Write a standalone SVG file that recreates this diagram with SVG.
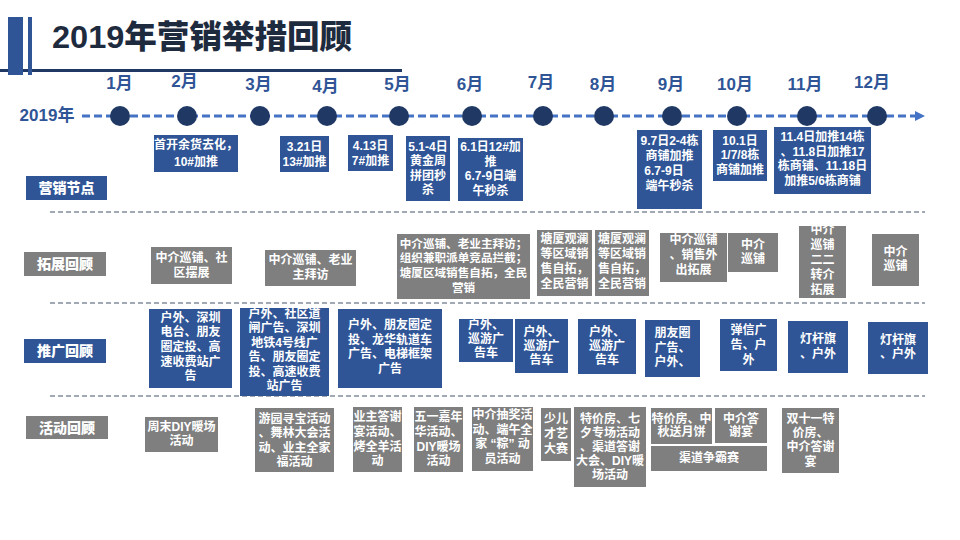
<svg xmlns="http://www.w3.org/2000/svg" width="960" height="540" viewBox="0 0 960 540">
<defs>
<style>
.b{fill:#2f5597}
.g{fill:#7f7f7f}
.t{font-family:"Liberation Sans","Noto Sans CJK SC",sans-serif;font-size:12px;font-weight:bold;fill:#fff;text-anchor:middle}
.lb{font-family:"Noto Sans CJK SC",sans-serif;font-size:14px;font-weight:900;fill:#fff;text-anchor:middle}
.m{font-family:"Liberation Sans","Noto Sans CJK SC",sans-serif;font-size:17px;font-weight:bold;fill:#2f5597;text-anchor:middle}
.sep{stroke:#44546a;stroke-width:1.2;stroke-dasharray:5 3;fill:none}
.dot{fill:#1f3864}
</style>
<marker id="arr" markerUnits="userSpaceOnUse" markerWidth="10" markerHeight="10" refX="2" refY="5" orient="auto">
<path d="M0,0 L10,5 L0,10 z" fill="#4472c4"/>
</marker>
</defs>
<rect width="960" height="540" fill="#fff"/>
<g id="header">
<rect x="0" y="69" width="402" height="3" fill="#1f3864"/>
<rect x="8" y="17" width="15" height="58" fill="#2f5597"/>
<rect x="28" y="17" width="4" height="58" fill="#2f5597"/>
<text x="52" y="48" textLength="300" lengthAdjust="spacingAndGlyphs" style="font-family:'Liberation Sans','Noto Sans CJK SC',sans-serif;font-size:32px;font-weight:900;fill:#1e2b3e">2019年营销举措回顾</text>
</g>
<g id="connectors">
<line x1="82" y1="116" x2="917" y2="116" stroke="#4472c4" stroke-width="3" stroke-dasharray="8 4" marker-end="url(#arr)"/>
<line class="sep" x1="50" y1="212" x2="925" y2="212"/>
<line class="sep" x1="50" y1="303" x2="925" y2="303"/>
<line class="sep" x1="50" y1="396" x2="925" y2="396"/>
</g>
<g id="timeline">
<text x="47" y="121" style="font-family:'Liberation Sans','Noto Sans CJK SC',sans-serif;font-size:17px;font-weight:bold;fill:#2f5597;text-anchor:middle">2019年</text>
<circle class="dot" cx="120" cy="116" r="10"/>
<circle class="dot" cx="187" cy="116" r="10"/>
<circle class="dot" cx="260" cy="116" r="10"/>
<circle class="dot" cx="327" cy="116" r="10"/>
<circle class="dot" cx="399" cy="116" r="10"/>
<circle class="dot" cx="472" cy="116" r="10"/>
<circle class="dot" cx="543" cy="116" r="10"/>
<circle class="dot" cx="604" cy="116" r="10"/>
<circle class="dot" cx="672" cy="116" r="10"/>
<circle class="dot" cx="737" cy="116" r="10"/>
<circle class="dot" cx="807" cy="116" r="10"/>
<circle class="dot" cx="877" cy="116" r="10"/>
<text class="m" x="119.5" y="89">1月</text>
<text class="m" x="184.5" y="87">2月</text>
<text class="m" x="258.5" y="90">3月</text>
<text class="m" x="325.5" y="92">4月</text>
<text class="m" x="397.5" y="90">5月</text>
<text class="m" x="470" y="90">6月</text>
<text class="m" x="541" y="88">7月</text>
<text class="m" x="603" y="90">8月</text>
<text class="m" x="671" y="90">9月</text>
<text class="m" x="735" y="90">10月</text>
<text class="m" x="805" y="90">11月</text>
<text class="m" x="872" y="88">12月</text>
</g>
<!-- Row 1 -->
<g id="label-yingxiao"><rect class="b" x="26" y="176" width="81" height="24"/><text class="lb" x="66.5" y="193">营销节点</text></g>
<g id="yx1"><rect class="b" x="154" y="135" width="84" height="37"/><text class="t"><tspan x="196" y="149.3">首开余货去化，</tspan><tspan x="196" y="166.3">10#加推</tspan></text></g>
<g id="yx2"><rect class="b" x="280" y="136" width="49" height="36"/><text class="t"><tspan x="304.5" y="150.8">3.21日</tspan><tspan x="304.5" y="165.8">13#加推</tspan></text></g>
<g id="yx3"><rect class="b" x="348" y="135" width="45" height="36"/><text class="t"><tspan x="370.5" y="149.8">4.13日</tspan><tspan x="370.5" y="164.8">7#加推</tspan></text></g>
<g id="yx4"><rect class="b" x="406" y="136" width="44" height="65"/><text class="t"><tspan x="428" y="150.5">5.1-4日</tspan><tspan x="428" y="165">黄金周</tspan><tspan x="428" y="179.5">拼团秒</tspan><tspan x="428" y="194">杀</tspan></text></g>
<g id="yx5"><rect class="b" x="458" y="138" width="65" height="63"/><text class="t"><tspan x="490.5" y="151">6.1日12#加</tspan><tspan x="490.5" y="165.5">推</tspan><tspan x="490.5" y="180">6.7-9日端</tspan><tspan x="490.5" y="194.5">午秒杀</tspan></text></g>
<g id="yx6"><rect class="b" x="637" y="130" width="65" height="79"/><text class="t"><tspan x="669.5" y="144.5">9.7日2-4栋</tspan><tspan x="669.5" y="159.5">商铺加推</tspan><tspan x="664" y="174.5">6.7-9日</tspan><tspan x="669.5" y="189.5">端午秒杀</tspan></text></g>
<g id="yx7"><rect class="b" x="713" y="130" width="54" height="51"/><text class="t"><tspan x="740" y="144.5">10.1日</tspan><tspan x="740" y="159">1/7/8栋</tspan><tspan x="740" y="173.5">商铺加推</tspan></text></g>
<g id="yx8"><rect class="b" x="774" y="127" width="97" height="67"/><text class="t"><tspan x="822.5" y="141">11.4日加推14栋</tspan><tspan x="822.5" y="155.5">、11.8日加推17</tspan><tspan x="822.5" y="170">栋商铺、11.18日</tspan><tspan x="822.5" y="184.5">加推5/6栋商铺</tspan></text></g>
<!-- Row 2 -->
<g id="label-tuozhan"><rect class="g" x="24" y="252" width="82" height="24"/><text class="lb" x="65" y="269">拓展回顾</text></g>
<g id="tz1"><rect class="g" x="151" y="247" width="81" height="37"/><text class="t"><tspan x="191.5" y="262">中介巡铺、社</tspan><tspan x="191.5" y="276.6">区摆展</tspan></text></g>
<g id="tz2"><rect class="g" x="265" y="250" width="91" height="36"/><text class="t"><tspan x="310.5" y="264.3">中介巡铺、老业</tspan><tspan x="310.5" y="278.6">主拜访</tspan></text></g>
<g id="tz3"><rect class="g" x="397" y="234" width="133" height="65"/><text class="t" style="font-size:11.6px"><tspan x="463.5" y="247.6">中介巡铺、老业主拜访；</tspan><tspan x="463.5" y="262.4">组织兼职派单竞品拦截；</tspan><tspan x="463.5" y="277.2">塘厦区域销售自拓，全民</tspan><tspan x="463.5" y="292">营销</tspan></text></g>
<g id="tz4"><rect class="g" x="537" y="230" width="55" height="66"/><text class="t"><tspan x="564.5" y="243.3">塘厦观澜</tspan><tspan x="564.5" y="258.3">等区域销</tspan><tspan x="564.5" y="273.3">售自拓，</tspan><tspan x="564.5" y="288.3">全民营销</tspan></text></g>
<g id="tz5"><rect class="g" x="595" y="230" width="54" height="66"/><text class="t"><tspan x="622" y="243.3">塘厦观澜</tspan><tspan x="622" y="258.3">等区域销</tspan><tspan x="622" y="273.3">售自拓，</tspan><tspan x="622" y="288.3">全民营销</tspan></text></g>
<g id="tz6"><rect class="g" x="660" y="233" width="67" height="49"/><text class="t"><tspan x="693.5" y="244.3">中介巡铺</tspan><tspan x="693.5" y="259">、销售外</tspan><tspan x="693.5" y="273.5">出拓展</tspan></text></g>
<g id="tz7"><rect class="g" x="728" y="233" width="50" height="39"/><text class="t"><tspan x="753" y="249.3">中介</tspan><tspan x="753" y="263">巡铺</tspan></text></g>
<g id="tz8"><rect class="g" x="799" y="226" width="47" height="72"/><text class="t"><tspan x="822.5" y="234.3">中介</tspan><tspan x="822.5" y="249.1">巡铺</tspan><tspan x="822.5" y="263.9">二二</tspan><tspan x="822.5" y="278.7">转介</tspan><tspan x="822.5" y="293.5">拓展</tspan></text></g>
<g id="tz9"><rect class="g" x="872" y="234" width="47" height="52"/><text class="t"><tspan x="895.5" y="256">中介</tspan><tspan x="895.5" y="270">巡铺</tspan></text></g>
<!-- Row 3 -->
<g id="label-tuiguang"><rect class="b" x="24" y="339" width="82" height="24"/><text class="lb" x="65" y="356">推广回顾</text></g>
<g id="tg1"><rect class="b" x="149" y="309" width="83" height="79"/><text class="t"><tspan x="190.5" y="321.6">户外、深圳</tspan><tspan x="190.5" y="336.3">电台、朋友</tspan><tspan x="190.5" y="351">圈定投、高</tspan><tspan x="190.5" y="365.7">速收费站广</tspan><tspan x="190.5" y="380.4">告</tspan></text></g>
<g id="tg2"><rect class="b" x="240" y="308" width="89" height="88"/><text class="t"><tspan x="284.5" y="317.6">户外、社区道</tspan><tspan x="284.5" y="332.1">闸广告、深圳</tspan><tspan x="284.5" y="346.6">地铁4号线广</tspan><tspan x="284.5" y="361.1">告、朋友圈定</tspan><tspan x="284.5" y="375.6">投、高速收费</tspan><tspan x="284.5" y="390.1">站广告</tspan></text></g>
<g id="tg3"><rect class="b" x="338" y="309" width="104" height="79"/><text class="t"><tspan x="390" y="329.3">户外、朋友圈定</tspan><tspan x="390" y="343.7">投、龙华轨道车</tspan><tspan x="390" y="358.1">广告、电梯框架</tspan><tspan x="390" y="372.5">广告</tspan></text></g>
<g id="tg4"><rect class="b" x="459" y="319" width="54" height="43"/><text class="t"><tspan x="486" y="329.3">户外、</tspan><tspan x="486" y="343.3">巡游广</tspan><tspan x="486" y="357.3">告车</tspan></text></g>
<g id="tg5"><rect class="b" x="515" y="319" width="53" height="54"/><text class="t"><tspan x="541.5" y="336">户外、</tspan><tspan x="541.5" y="350">巡游广</tspan><tspan x="541.5" y="364">告车</tspan></text></g>
<g id="tg6"><rect class="b" x="578" y="319" width="58" height="55"/><text class="t"><tspan x="607" y="336">户外、</tspan><tspan x="607" y="350.2">巡游广</tspan><tspan x="607" y="364.4">告车</tspan></text></g>
<g id="tg7"><rect class="b" x="645" y="320" width="55" height="57"/><text class="t"><tspan x="672.5" y="337">朋友圈</tspan><tspan x="672.5" y="351.5">广告、</tspan><tspan x="672.5" y="366">户外、</tspan></text></g>
<g id="tg8"><rect class="b" x="720" y="319" width="57" height="52"/><text class="t"><tspan x="748.5" y="333.6">弹信广</tspan><tspan x="748.5" y="348.6">告、户</tspan><tspan x="748.5" y="363.6">外</tspan></text></g>
<g id="tg9"><rect class="b" x="788" y="321" width="60" height="52"/><text class="t"><tspan x="818" y="343.3">灯杆旗</tspan><tspan x="818" y="357.6">、户外</tspan></text></g>
<g id="tg10"><rect class="b" x="868" y="322" width="60" height="52"/><text class="t"><tspan x="898" y="343.6">灯杆旗</tspan><tspan x="898" y="358">、户外</tspan></text></g>
<!-- Row 4 -->
<g id="label-huodong"><rect class="g" x="26" y="416" width="82" height="23"/><text class="lb" x="67" y="433">活动回顾</text></g>
<g id="hd1"><rect class="g" x="145" y="417" width="73" height="35"/><text class="t"><tspan x="181.5" y="431">周末DIY暖场</tspan><tspan x="181.5" y="445">活动</tspan></text></g>
<g id="hd2"><rect class="g" x="255" y="408" width="79" height="64"/><text class="t"><tspan x="294.5" y="422.6">游园寻宝活动</tspan><tspan x="294.5" y="437.1">、舞林大会活</tspan><tspan x="294.5" y="451.6">动、业主全家</tspan><tspan x="294.5" y="466.1">福活动</tspan></text></g>
<g id="hd3"><rect class="g" x="353" y="407" width="49" height="65"/><text class="t"><tspan x="377.5" y="421">业主答谢</tspan><tspan x="377.5" y="435.8">宴活动、</tspan><tspan x="377.5" y="450.6">烤全羊活</tspan><tspan x="377.5" y="465.4">动</tspan></text></g>
<g id="hd4"><rect class="g" x="414" y="407" width="49" height="65"/><text class="t"><tspan x="438.5" y="421">五一嘉年</tspan><tspan x="438.5" y="435.8">华活动、</tspan><tspan x="438.5" y="450.6">DIY暖场</tspan><tspan x="438.5" y="465.4">活动</tspan></text></g>
<g id="hd5"><rect class="g" x="472" y="407" width="61" height="64"/><text class="t"><tspan x="502.5" y="419.3">中介抽奖活</tspan><tspan x="502.5" y="433.7">动、端午全</tspan><tspan x="502.5" y="448.1">家 “粽” 动</tspan><tspan x="502.5" y="462.5">员活动</tspan></text></g>
<g id="hd6"><rect class="g" x="541" y="408" width="30" height="53"/><text class="t"><tspan x="556" y="422.6">少儿</tspan><tspan x="556" y="437.6">才艺</tspan><tspan x="556" y="452.6">大赛</tspan></text></g>
<g id="hd7"><rect class="g" x="574" y="407" width="72" height="80"/><text class="t"><tspan x="610" y="422.6">特价房、七</tspan><tspan x="610" y="436.8">夕专场活动</tspan><tspan x="610" y="451">、渠道答谢</tspan><tspan x="610" y="465.2">大会、DIY暖</tspan><tspan x="610" y="479.4">场活动</tspan></text></g>
<g id="hd8"><rect class="g" x="651" y="408" width="61" height="36"/><text class="t"><tspan x="681.5" y="422.6">特价房、中</tspan><tspan x="681.5" y="436">秋送月饼</tspan></text></g>
<g id="hd9"><rect class="g" x="715" y="408" width="52" height="35"/><text class="t"><tspan x="741" y="422.6">中介答</tspan><tspan x="741" y="436">谢宴</tspan></text></g>
<g id="hd10"><rect class="g" x="651" y="446" width="116" height="25"/><text class="t" x="709" y="462">渠道争霸赛</text></g>
<g id="hd11"><rect class="g" x="782" y="408" width="57" height="65"/><text class="t"><tspan x="810.5" y="422.6">双十一特</tspan><tspan x="810.5" y="437">价房、</tspan><tspan x="810.5" y="451.4">中介答谢</tspan><tspan x="810.5" y="465.8">宴</tspan></text></g>
</svg>
